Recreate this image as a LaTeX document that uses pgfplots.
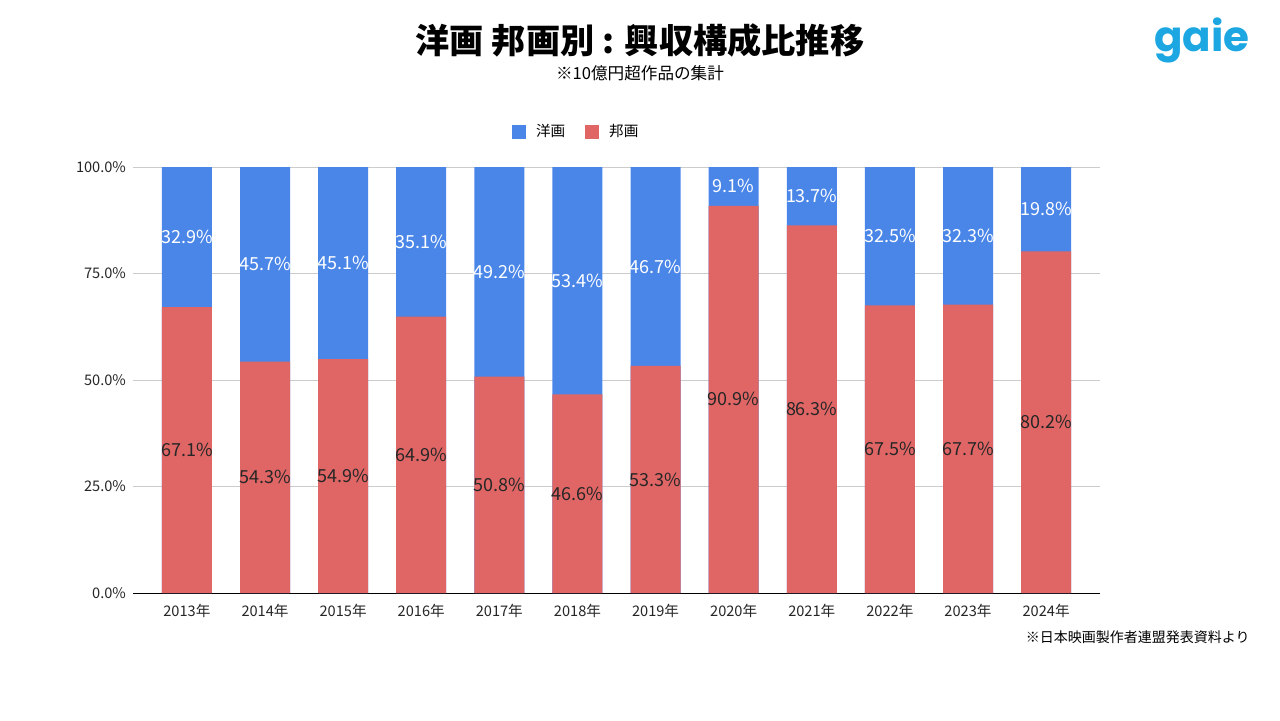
\documentclass[border=0pt]{standalone}
\usepackage{pgfplots}
\pgfplotsset{compat=1.18}
\usepackage{pgfplotstable}
\usepackage{fontspec}
\setmainfont{Noto Sans CJK JP}
\newfontfamily\logofont{Poppins}
\definecolor{yoga}{HTML}{4A86E8}
\definecolor{hoga}{HTML}{E06666}
\definecolor{logoc}{HTML}{1CA7E2}
\definecolor{gridc}{HTML}{CCCCCC}

\pgfplotsset{sqlegend/.style={legend image code/.code={\fill[##1] (0pt,-3.5pt) rectangle (7pt,3.5pt);}}}

% share of box office, %
\pgfplotstableread{
x yoga hoga
0 32.9 67.1
1 45.7 54.3
2 45.1 54.9
3 35.1 64.9
4 49.2 50.8
5 53.4 46.6
6 46.7 53.3
7 9.1 90.9
8 13.7 86.3
9 32.5 67.5
10 32.3 67.7
11 19.8 80.2
}\share

\begin{document}
\begin{tikzpicture}
\path[use as bounding box, fill=white] (0,0) rectangle (640pt,360pt);
\begin{axis}[
  at={(66.5pt,63.5pt)}, anchor=south west,
  scale only axis, width=483.5pt, height=213pt,
  xmin=-0.69, xmax=11.69, ymin=0, ymax=100,
  axis x line*=bottom, axis y line*=left,
  x axis line style={black, line width=0.45pt},
  y axis line style={draw=none},
  major tick length=0pt,
  ymajorgrids, grid style={gridc, line width=0.5pt},
  ytick={0,25,50,75,100},
  xtick={0,...,11},
  xticklabels={2013年,2014年,2015年,2016年,2017年,2018年,2019年,2020年,2021年,2022年,2023年,2024年},
  /pgf/number format/assume math mode=true,
  yticklabel={\pgfmathprintnumber[fixed,fixed zerofill,precision=1]{\tick}\%},
  ticklabel style={font=\fontsize{7.3}{8}\selectfont, text=black!85},
  xticklabel style={yshift=-2pt},
  legend style={at={(0.4625,1.082)}, anchor=center, draw=none, fill=none,
    legend columns=2, font=\fontsize{7.3}{8}\selectfont,
    nodes={inner xsep=5pt},
    /tikz/every even column/.style={column sep=5pt}},
  clip=false,
]
\addplot[ybar, bar width=25pt, bar shift=0pt, fill=yoga, draw=none, sqlegend]
  table[x=x, y expr=\thisrow{hoga}+\thisrow{yoga}] {\share};
\addlegendentry{洋画}
\addplot[ybar, bar width=25pt, bar shift=0pt, fill=hoga, draw=none, sqlegend]
  table[x=x, y=hoga] {\share};
\addlegendentry{邦画}
\addplot[draw=none, mark=none, forget plot, point meta=explicit,
  nodes near coords={\pgfmathprintnumber[fixed,fixed zerofill,precision=1]{\pgfplotspointmeta}\%},
  every node near coord/.append style={anchor=center, text=white, font=\fontsize{9}{10}\selectfont}]
  table[x=x, y expr=\thisrow{hoga}+\thisrow{yoga}/2, meta=yoga] {\share};
\addplot[draw=none, mark=none, forget plot, point meta=explicit,
  nodes near coords={\pgfmathprintnumber[fixed,fixed zerofill,precision=1]{\pgfplotspointmeta}\%},
  every node near coord/.append style={anchor=center, text=black!85, font=\fontsize{9}{10}\selectfont}]
  table[x=x, y expr=\thisrow{hoga}/2, meta=hoga] {\share};
\end{axis}
\node[font=\fontsize{17.1}{18}\bfseries\selectfont] at (320pt,340pt) {洋画 邦画別 : 興収構成比推移};
\node[font=\fontsize{8.3}{9}\selectfont] at (320pt,323.5pt) {※10億円超作品の集計};
\node[font=\logofont\fontsize{21}{22}\bfseries\selectfont, text=logoc] at (601pt,340pt) {gaie};
\node[anchor=east, font=\fontsize{7}{8}\selectfont, inner sep=0pt] at (625pt,41.5pt) {※日本映画製作者連盟発表資料より};
\end{tikzpicture}
\end{document}
